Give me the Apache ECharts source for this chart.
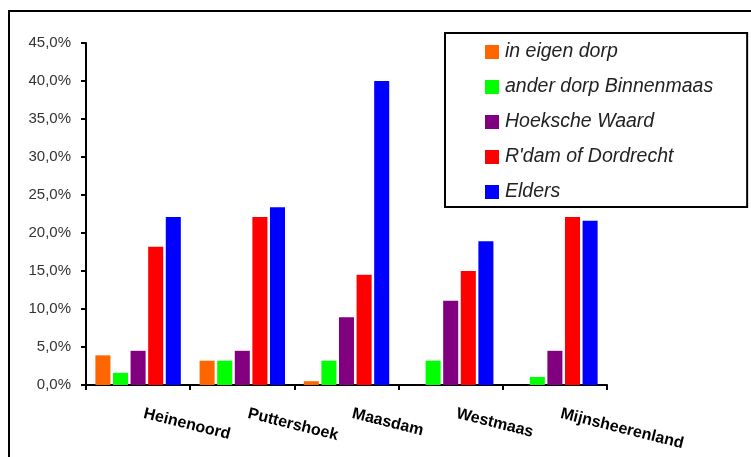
<!DOCTYPE html>
<html>
<head>
<meta charset="utf-8">
<script src="https://cdn.jsdelivr.net/npm/echarts@6/dist/echarts.min.js"></script>
<style>html,body{margin:0;padding:0;background:#fff;}#c{width:751px;height:457px;}</style>
</head>
<body>
<div id="c"></div>
<script>
const categories = ['Heinenoord', 'Puttershoek', 'Maasdam', 'Westmaas', 'Mijnsheerenland'];
const seriesNames = ['in eigen dorp', 'ander dorp Binnenmaas', 'Hoeksche Waard', "R'dam of Dordrecht", 'Elders'];
const inEigenDorp = [3.9, 3.2, 0.5, 0, 0];
const anderDorp = [1.6, 3.2, 3.2, 3.2, 1.05];
const hoekscheWaard = [4.5, 4.5, 8.9, 11.1, 4.5];
const rdamDordrecht = [18.2, 22.1, 14.5, 15.0, 22.1];
const elders = [22.1, 23.4, 40.0, 18.9, 21.6];
const colors = ['#ff6600', '#00ff00', '#800080', '#ff0000', '#0000ff'];
const values = [inEigenDorp, anderDorp, hoekscheWaard, rdamDordrecht, elders];

const chart = echarts.init(document.getElementById('c'), null, {renderer: 'canvas'});
chart.setOption({
  animation: false,
  backgroundColor: '#fff',
  grid: {left: 86, right: 144, top: 43, bottom: 72},
  graphic: [{
    type: 'rect', z: 100,
    shape: {x: 9, y: 11, width: 800, height: 500},
    style: {fill: 'none', stroke: '#000', lineWidth: 2}
  }],
  legend: {
    left: 445, top: 33,
    orient: 'vertical',
    itemWidth: 14, itemHeight: 14, itemGap: 15,
    icon: 'rect',
    padding: [9, 34, 5, 40],
    borderColor: '#000', borderWidth: 2,
    backgroundColor: '#fff',
    textStyle: {fontFamily: 'Liberation Sans', fontStyle: 'italic', fontSize: 19.5, color: '#222', padding: [0, 0, 0, 1]},
    data: seriesNames
  },
  xAxis: {
    type: 'category',
    data: categories,
    axisLine: {lineStyle: {color: '#000', width: 2}},
    axisTick: {show: true, length: 5, lineStyle: {color: '#000', width: 2}},
    axisLabel: {interval: 0, rotate: -14, margin: 27, padding: [0, 0, 0, 6], fontFamily: 'Liberation Sans', fontWeight: 'bold', fontSize: 16, color: '#000'}
  },
  yAxis: {
    type: 'value', min: 0, max: 45, interval: 5,
    splitLine: {show: false},
    axisLine: {show: true, lineStyle: {color: '#000', width: 2}},
    axisTick: {show: true, length: 5, lineStyle: {color: '#000', width: 2}},
    axisLabel: {margin: 15, fontFamily: 'Liberation Sans', fontSize: 15, color: '#333',
      formatter: v => v.toFixed(1).replace('.', ',') + '%'}
  },
  series: seriesNames.map((n, i) => ({
    name: n, type: 'bar', data: values[i],
    itemStyle: {color: colors[i]},
    barGap: '17%', barCategoryGap: '18%'
  }))
});
</script>
</body>
</html>
